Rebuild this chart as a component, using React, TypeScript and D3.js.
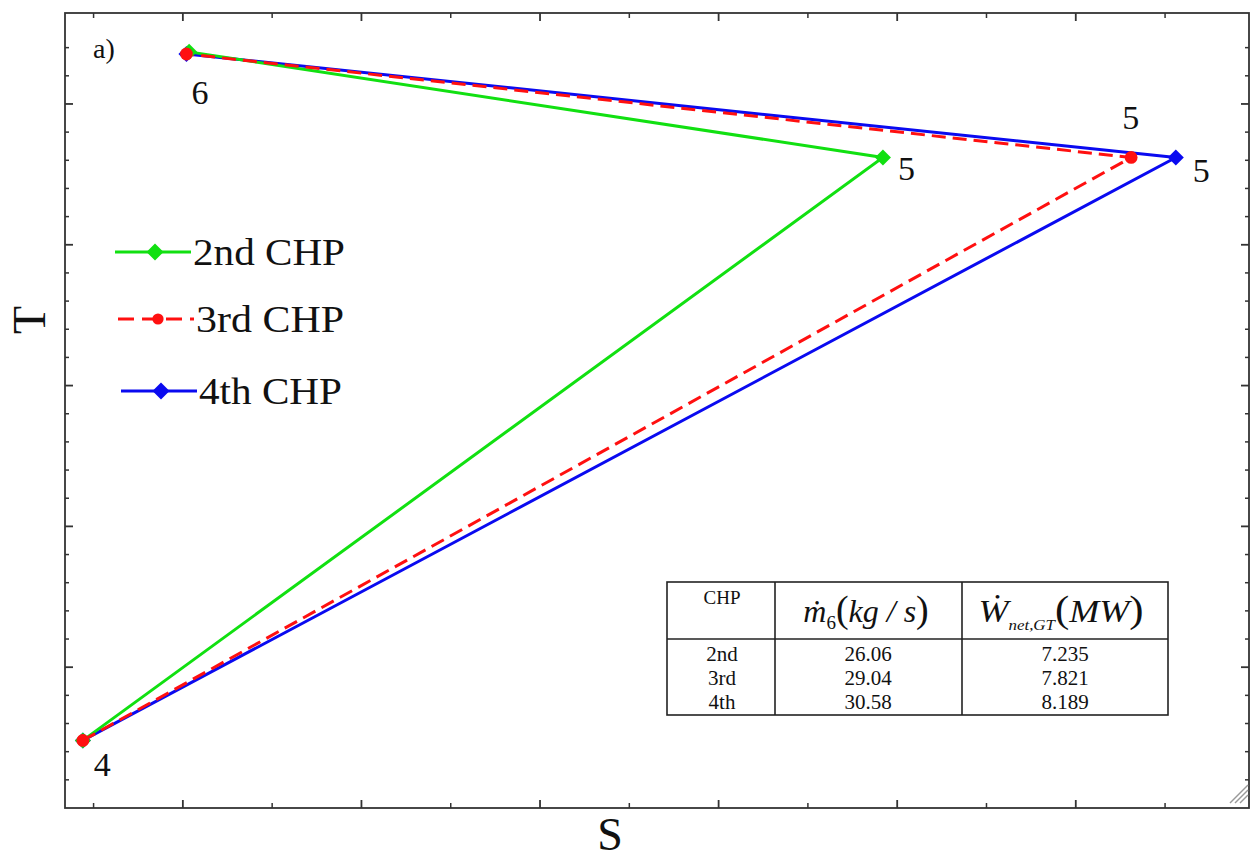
import React from 'react';
import * as d3 from 'd3';

// T-S diagram of the gas-turbine cycle, states 4 -> 5 -> 6
const stateNames = ['4', '5', '6'];
const cycleNames = ['2nd CHP', '3rd CHP', '4th CHP'];
const sValues2nd = [0.44, 4.92, 1.035];
const tValues2nd = [0.48, 4.62, 5.37];
const sValues3rd = [0.44, 6.31, 1.02];
const tValues3rd = [0.48, 4.62, 5.355];
const sValues4th = [0.44, 6.56, 1.02];
const tValues4th = [0.48, 4.62, 5.355];

// axis ticks (no labels on either axis)
const sMajorTicks = [1, 2, 3, 4, 5, 6];
const sMinorTicks = [0.5, 1.5, 2.5, 3.5, 4.5, 5.5, 6.5];
const tMajorTicks = [1, 2, 3, 4, 5];
const tMinorTicks = d3.range(0.2, 5.6, 0.2).filter(v => Math.abs(v - Math.round(v)) > 0.05);

// inset table
const tableRows = ['2nd', '3rd', '4th'];
const massFlow = ['26.06', '29.04', '30.58'];
const netPower = ['7.235', '7.821', '8.189'];

const W = 1251;
const H = 860;
const plot = { left: 65, right: 1249, top: 13, bottom: 808 };
const serif = '"Liberation Serif", "Times New Roman", serif';

const styles = [
  { color: '#11e011', dash: null, marker: 'diamond' },
  { color: '#ff1010', dash: '14,7', marker: 'circle' },
  { color: '#0a0af0', dash: null, marker: 'diamond' },
];

const Marker = ({ kind, x, y, color, size = 8 }) =>
  kind === 'diamond' ? (
    <path d={`M${x},${y - size}L${x + size},${y}L${x},${y + size}L${x - size},${y}Z`} fill={color} />
  ) : (
    <circle cx={x} cy={y} r={size * 0.8} fill={color} />
  );

export default function App() {
  const x = d3.scaleLinear().domain([0.34, 6.97]).range([plot.left, plot.right]);
  const y = d3.scaleLinear().domain([0, 5.646]).range([plot.bottom, plot.top]);

  const series = [
    { name: cycleNames[0], s: sValues2nd, t: tValues2nd, ...styles[0] },
    { name: cycleNames[1], s: sValues3rd, t: tValues3rd, ...styles[1] },
    { name: cycleNames[2], s: sValues4th, t: tValues4th, ...styles[2] },
  ];
  const drawOrder = [2, 0, 1];

  const line = d3.line<number[]>()
    .x(d => d[0])
    .y(d => d[1]);

  return (
    <svg width={W} height={H} style={{ position: 'absolute', left: 0, top: 0, background: '#fff', fontFamily: serif }}>
      {/* frame */}
      <rect x={plot.left} y={plot.top} width={plot.right - plot.left} height={plot.bottom - plot.top}
        fill="none" stroke="#333" strokeWidth={1.8} />

      {/* S ticks, bottom and top, pointing inward */}
      {sMajorTicks.map(v => (
        <g key={'sx' + v} stroke="#333" strokeWidth={1.8}>
          <line x1={x(v)} x2={x(v)} y1={plot.bottom} y2={plot.bottom - 8} />
          <line x1={x(v)} x2={x(v)} y1={plot.top} y2={plot.top + 8} />
        </g>
      ))}
      {sMinorTicks.map(v => (
        <g key={'sm' + v} stroke="#333" strokeWidth={1.5}>
          <line x1={x(v)} x2={x(v)} y1={plot.bottom} y2={plot.bottom - 5} />
          <line x1={x(v)} x2={x(v)} y1={plot.top} y2={plot.top + 5} />
        </g>
      ))}
      {/* T ticks, left and right */}
      {tMajorTicks.map(v => (
        <g key={'ty' + v} stroke="#333" strokeWidth={1.8}>
          <line y1={y(v)} y2={y(v)} x1={plot.left} x2={plot.left + 8} />
          <line y1={y(v)} y2={y(v)} x1={plot.right} x2={plot.right - 8} />
        </g>
      ))}
      {tMinorTicks.map(v => (
        <g key={'tm' + v.toFixed(1)} stroke="#333" strokeWidth={1.5}>
          <line y1={y(v)} y2={y(v)} x1={plot.left} x2={plot.left + 4} />
          <line y1={y(v)} y2={y(v)} x1={plot.right} x2={plot.right - 4} />
        </g>
      ))}

      {/* resize grip in the corner */}
      {[0, 5, 10].map(o => (
        <line key={'grip' + o} x1={1230 + o} y1={803} x2={1248} y2={785 + o} stroke="#999" strokeWidth={1.5} />
      ))}

      {/* axis titles */}
      <text transform="translate(30,320) rotate(-90)" x={0} y={15} textAnchor="middle"
        fontSize={46} fill="#111">T</text>
      <text x={610} y={850} textAnchor="middle" fontSize={46} fill="#111">S</text>
      <text x={93} y={58} fontSize={28} fill="#111">a)</text>

      {/* cycle lines */}
      {drawOrder.map(i => {
        const sr = series[i];
        const pts = sr.s.map((s, k) => [x(s), y(sr.t[k])]);
        return (
          <path key={sr.name} d={line(pts) || ''} fill="none" stroke={sr.color} strokeWidth={3}
            strokeDasharray={sr.dash || undefined} />
        );
      })}
      {drawOrder.map(i => {
        const sr = series[i];
        return (
          <g key={sr.name + 'm'}>
            {sr.s.map((s, k) => (
              <Marker key={k} kind={sr.marker} x={x(s)} y={y(sr.t[k])} color={sr.color} />
            ))}
          </g>
        );
      })}

      {/* state labels */}
      <g fontSize={34} fill="#111">
        <text x={x(sValues2nd[0]) + 11} y={y(tValues2nd[0]) + 36}>{stateNames[0]}</text>
        <text x={x(sValues3rd[2]) + 5} y={y(tValues3rd[2]) + 50}>{stateNames[2]}</text>
        <text x={x(sValues2nd[1]) + 15} y={y(tValues2nd[1]) + 23}>{stateNames[1]}</text>
        <text x={x(sValues3rd[1]) - 9} y={y(tValues3rd[1]) - 28}>{stateNames[1]}</text>
        <text x={x(sValues4th[1]) + 17} y={y(tValues4th[1]) + 25}>{stateNames[1]}</text>
      </g>

      {/* legend */}
      {series.map((sr, i) => {
        const ly = [252, 319, 391][i];
        const lx0 = [115, 118, 121][i];
        const tw = [152, 148, 143][i];
        return (
          <g key={'leg' + sr.name}>
            <line x1={lx0} x2={lx0 + 76} y1={ly} y2={ly} stroke={sr.color} strokeWidth={2.8}
              strokeDasharray={sr.dash ? '16,8' : undefined} />
            <Marker kind={sr.marker} x={lx0 + 40} y={ly} color={sr.color} size={sr.marker === 'circle' ? 7 : 8.5} />
            <text x={lx0 + 78} y={ly + 13} fontSize={38} fill="#111" textLength={tw}
              lengthAdjust="spacingAndGlyphs">{sr.name}</text>
          </g>
        );
      })}

      {/* inset table */}
      <g fill="#111">
        <rect x={667} y={582} width={501} height={133} fill="#fff" stroke="#222" strokeWidth={1.6} />
        <line x1={775} x2={775} y1={582} y2={715} stroke="#222" strokeWidth={1.6} />
        <line x1={962} x2={962} y1={582} y2={715} stroke="#222" strokeWidth={1.6} />
        <line x1={667} x2={1168} y1={639} y2={639} stroke="#222" strokeWidth={1.6} />
        <text x={722} y={604} textAnchor="middle" fontSize={19}>CHP</text>
        <text x={866} y={622} textAnchor="middle" fontSize={32} fontStyle="italic">
          ṁ<tspan fontSize={19} fontStyle="normal" dy={7}>6</tspan>
          <tspan dy={-7} fontStyle="normal" fontSize={38}>(</tspan>kg / s<tspan fontStyle="normal" fontSize={38}>)</tspan>
        </text>
        <text x={1061} y={622} textAnchor="middle" fontSize={32} fontStyle="italic" textLength={165}
          lengthAdjust="spacingAndGlyphs">
          Ẇ<tspan fontSize={15} dy={8}>net,GT</tspan>
          <tspan dy={-8} fontStyle="normal" fontSize={38}>(</tspan>MW<tspan fontStyle="normal" fontSize={38}>)</tspan>
        </text>
        {tableRows.map((r, i) => (
          <g key={'row' + r} fontSize={21}>
            <text x={722} y={661 + i * 24} textAnchor="middle">{r}</text>
            <text x={868} y={661 + i * 24} textAnchor="middle">{massFlow[i]}</text>
            <text x={1065} y={661 + i * 24} textAnchor="middle">{netPower[i]}</text>
          </g>
        ))}
      </g>
    </svg>
  );
}
